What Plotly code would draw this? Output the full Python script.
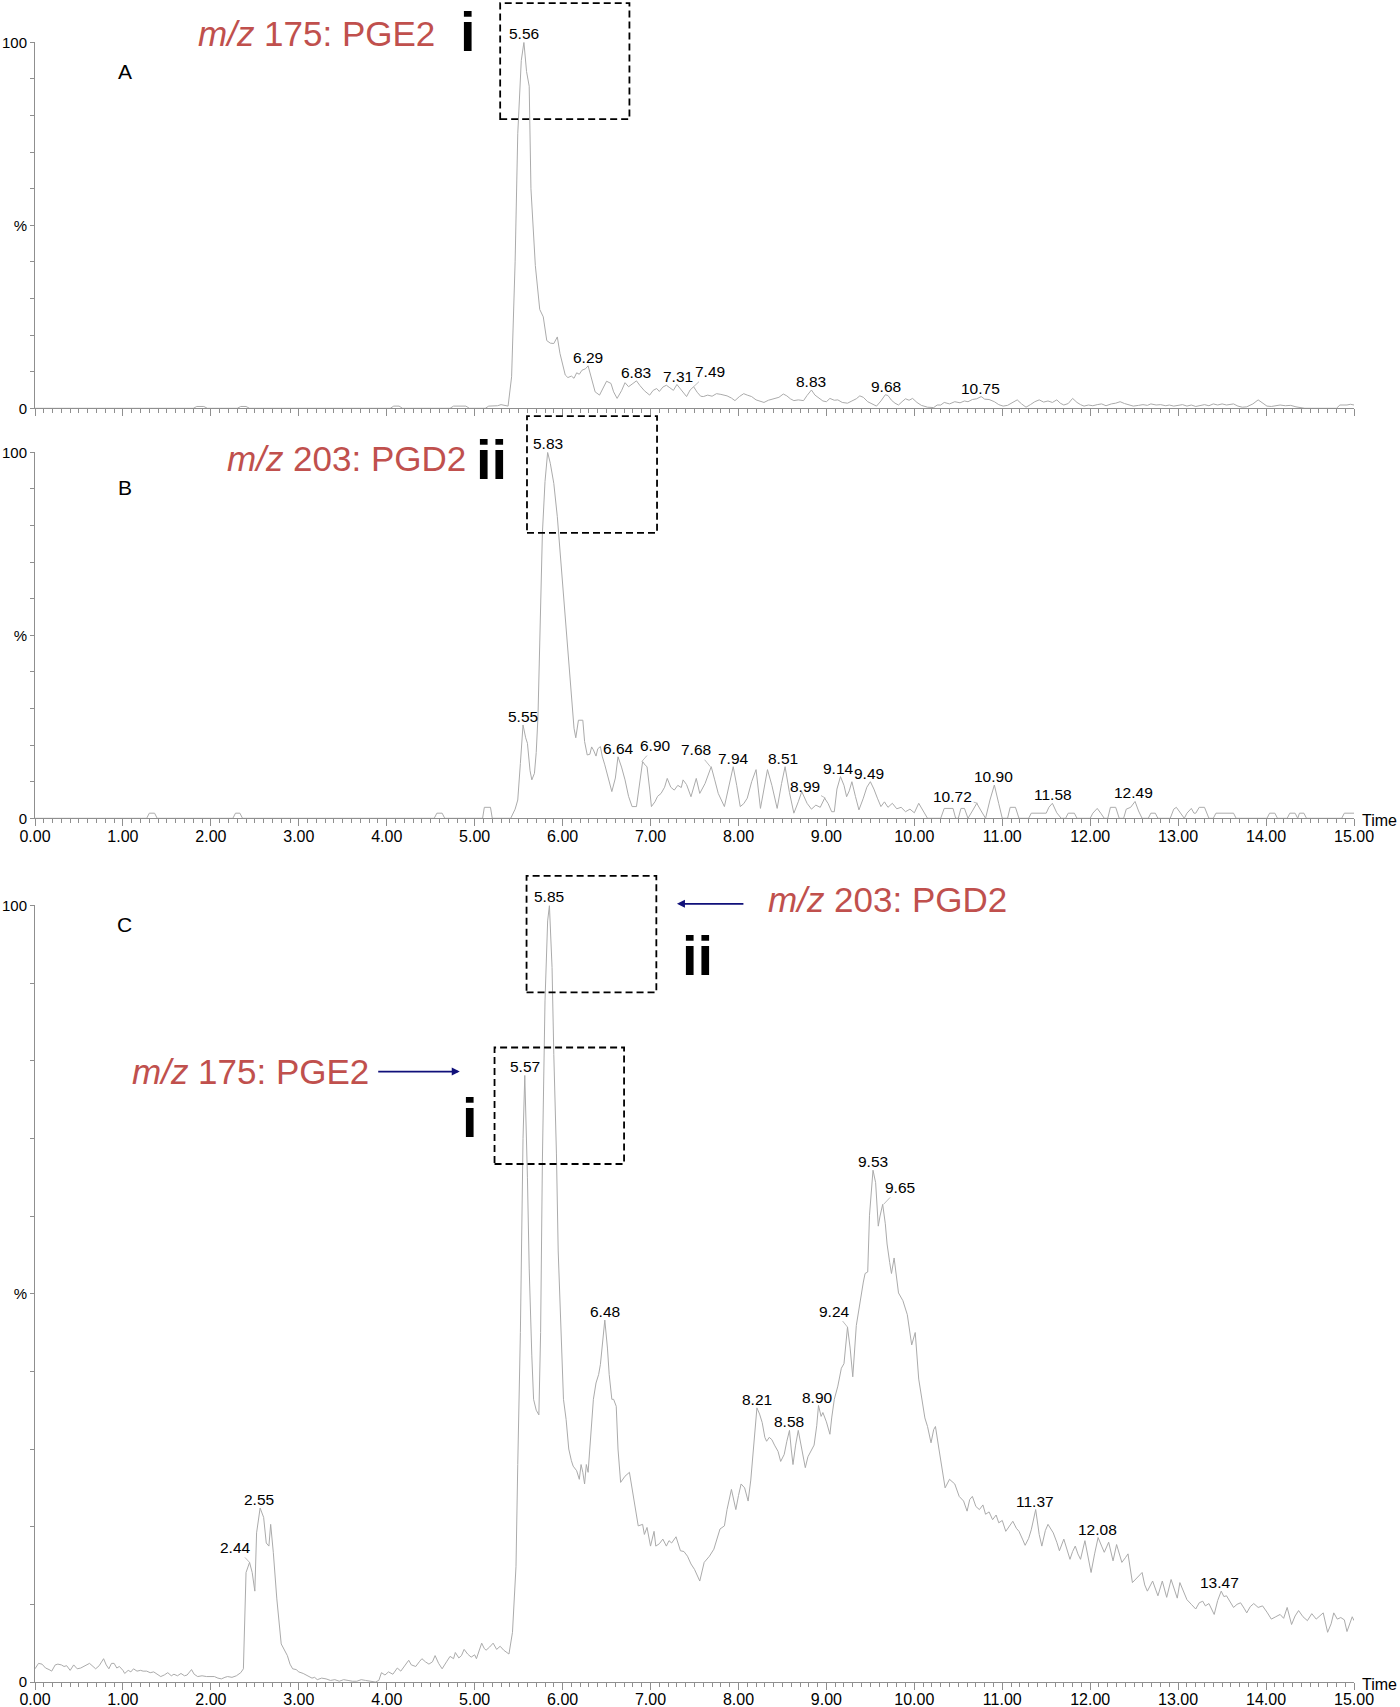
import plotly.graph_objects as go

# ----- Chromatogram A: m/z 175 (PGE2), retention time (min) vs relative intensity (%)
time_a = [
    0.00, 1.80, 1.84, 1.92, 1.96, 2.30, 2.34, 2.40, 2.44, 4.04,
    4.08, 4.14, 4.18, 4.72, 4.76, 4.90, 4.94, 5.12, 5.16, 5.26,
    5.30, 5.36, 5.38, 5.42, 5.46, 5.49, 5.53, 5.56, 5.59, 5.62,
    5.64, 5.69, 5.74, 5.78, 5.82, 5.86, 5.90, 5.94, 5.97, 6.03,
    6.06, 6.10, 6.13, 6.16, 6.19, 6.22, 6.26, 6.29, 6.33, 6.37,
    6.42, 6.46, 6.50, 6.55, 6.58, 6.62, 6.67, 6.71, 6.75, 6.79,
    6.84, 6.88, 6.93, 6.99, 7.03, 7.07, 7.10, 7.14, 7.18, 7.22,
    7.26, 7.30, 7.34, 7.38, 7.41, 7.45, 7.49, 7.53, 7.57, 7.60,
    7.65, 7.70, 7.75, 7.80, 7.87, 7.92, 7.96, 8.01, 8.06, 8.10,
    8.15, 8.20, 8.25, 8.29, 8.34, 8.40, 8.46, 8.51, 8.55, 8.59,
    8.63, 8.68, 8.74, 8.78, 8.83, 8.87, 8.92, 8.96, 9.00, 9.04,
    9.09, 9.13, 9.18, 9.24, 9.29, 9.34, 9.38, 9.42, 9.47, 9.52,
    9.57, 9.62, 9.67, 9.70, 9.74, 9.78, 9.82, 9.86, 9.90, 9.94,
    9.98, 10.03, 10.08, 10.15, 10.22, 10.26, 10.30, 10.34, 10.40, 10.46,
    10.52, 10.57, 10.61, 10.66, 10.71, 10.76, 10.80, 10.85, 10.91, 10.96,
    11.01, 11.06, 11.12, 11.17, 11.22, 11.27, 11.32, 11.37, 11.42, 11.47,
    11.52, 11.57, 11.62, 11.66, 11.70, 11.75, 11.80, 11.85, 11.89, 11.93,
    11.98, 12.03, 12.08, 12.13, 12.18, 12.24, 12.29, 12.34, 12.39, 12.44,
    12.49, 12.55, 12.60, 12.65, 12.69, 12.75, 12.80, 12.86, 12.90, 12.95,
    13.00, 13.05, 13.10, 13.15, 13.20, 13.25, 13.30, 13.35, 13.40, 13.45,
    13.50, 13.55, 13.60, 13.63, 13.68, 13.73, 13.78, 13.85, 13.91, 13.96,
    14.01, 14.06, 14.11, 14.16, 14.22, 14.28, 14.34, 14.39, 14.44, 14.80,
    14.84, 14.92, 14.96, 15.00,
]
int_a = [
    0, 0, 0.5, 0.5, 0, 0, 0.5, 0.5, 0, 0,
    0.6, 0.6, 0, 0, 0.6, 0.6, 0, 0, 0.6, 0.7,
    1.0, 0.8, 0.6, 8.6, 40, 75, 95, 100, 92, 88,
    60, 39, 27, 25, 18.5, 17.8, 17.7, 19.5, 15, 9.1,
    8.4, 8.8, 8.2, 9.7, 9.3, 10.4, 10.8, 11.6, 8, 4.5,
    3.6, 5.5, 7.4, 6.8, 4.5, 2.7, 4.8, 7.0, 5.9, 6.6,
    7.5, 6.2, 4.8, 3.6, 4.9, 5.4, 4.6, 5.8, 6.3, 5.6,
    4.9, 6.5, 5.2, 4.0, 3.2, 5.0, 5.9, 4.4, 3.3, 3.2,
    3.6, 3.3, 4.0, 3.8, 3.4, 2.8, 2.1, 3.2, 4.0, 3.6,
    3.2, 2.3, 2.0, 1.6, 2.2, 2.5, 3.0, 3.9, 3.4, 2.6,
    2.1, 2.3, 2.1, 3.5, 5.0, 3.6, 2.6, 2.0, 1.8, 2.7,
    2.2, 2.3, 1.6, 1.4, 2.0, 2.6, 3.4, 3.0, 1.8, 1.2,
    0.6, 2.0, 3.7, 3.5, 2.2, 1.4, 0.9, 1.8, 2.6, 2.2,
    2.7, 1.6, 0.8, 0.3, 0.2, 0.9, 0.9, 1.6, 1.2, 1.8,
    1.5, 2.0, 1.8, 2.4, 2.6, 3.2, 2.5, 2.4, 1.8, 1.0,
    0.6, 0.8, 1.6, 2.3, 1.2, 0.3, 1.0, 1.8, 2.3, 1.7,
    2.0, 1.6, 2.3, 1.4, 0.9, 1.3, 2.7, 1.6, 1.0, 0.6,
    0.9, 0.7, 1.0, 1.2, 0.7, 1.2, 1.4, 1.8, 1.3, 1.0,
    0.6, 0.8, 1.0, 0.8, 1.2, 0.9, 1.0, 0.7, 0.9, 0.6,
    0.8, 1.0, 0.6, 0.9, 0.5, 0.8, 1.0, 0.7, 1.2, 0.9,
    1.2, 0.9, 1.2, 1.2, 0.6, 0.3, 0.4, 1.2, 2.3, 1.4,
    0.6, 0.5, 0.8, 0.9, 0.7, 0.8, 0.4, 0.3, 0, 0,
    0.9, 0.9, 1.1, 0.9,
]

# ----- Chromatogram B: m/z 203 (PGD2)
time_b = [
    0.00, 1.27, 1.30, 1.36, 1.39, 2.25, 2.28, 2.33, 2.36, 4.54,
    4.57, 4.63, 4.66, 5.09, 5.11, 5.18, 5.20, 5.41, 5.46, 5.49,
    5.52, 5.55, 5.58, 5.60, 5.63, 5.65, 5.68, 5.70, 5.72, 5.75,
    5.77, 5.80, 5.83, 5.86, 5.90, 5.94, 5.97, 6.00, 6.04, 6.07,
    6.10, 6.13, 6.15, 6.18, 6.23, 6.25, 6.28, 6.31, 6.33, 6.35,
    6.38, 6.40, 6.43, 6.45, 6.48, 6.52, 6.56, 6.60, 6.63, 6.67,
    6.71, 6.75, 6.79, 6.84, 6.88, 6.91, 6.94, 6.96, 6.99, 7.01,
    7.05, 7.08, 7.12, 7.16, 7.19, 7.23, 7.27, 7.31, 7.35, 7.37,
    7.41, 7.46, 7.52, 7.56, 7.62, 7.66, 7.69, 7.73, 7.77, 7.84,
    7.89, 7.94, 7.98, 8.02, 8.06, 8.10, 8.15, 8.20, 8.25, 8.29,
    8.33, 8.38, 8.44, 8.49, 8.53, 8.58, 8.63, 8.68, 8.72, 8.78,
    8.83, 8.88, 8.93, 8.98, 9.02, 9.06, 9.09, 9.12, 9.16, 9.20,
    9.23, 9.26, 9.29, 9.33, 9.37, 9.42, 9.46, 9.50, 9.54, 9.58,
    9.62, 9.66, 9.70, 9.75, 9.80, 9.85, 9.90, 9.95, 10.00, 10.05,
    10.10, 10.15, 10.30, 10.34, 10.44, 10.47, 10.50, 10.53, 10.57, 10.61,
    10.66, 10.71, 10.76, 10.81, 10.86, 10.91, 10.96, 11.00, 11.06, 11.09,
    11.15, 11.19, 11.30, 11.33, 11.50, 11.53, 11.57, 11.62, 11.67, 11.72,
    11.75, 11.82, 11.85, 12.00, 12.03, 12.08, 12.12, 12.16, 12.20, 12.23,
    12.29, 12.33, 12.38, 12.41, 12.46, 12.51, 12.55, 12.59, 12.66, 12.69,
    12.74, 12.77, 12.91, 12.95, 12.98, 13.03, 13.07, 13.10, 13.15, 13.18,
    13.20, 13.24, 13.30, 13.35, 13.40, 13.43, 13.63, 13.66, 14.01, 14.04,
    14.10, 14.13, 14.24, 14.27, 14.33, 14.36, 14.38, 14.43, 14.46, 14.86,
    14.89, 15.00,
]
int_b = [
    0, 0, 1.4, 1.4, 0, 0, 1.4, 1.4, 0, 0,
    1.4, 1.4, 0, 0, 3.0, 3.0, 0, 0, 2.5, 5,
    15, 25.5, 22, 20.5, 13, 10.5, 12.3, 18, 27.8, 55,
    77.8, 92, 100, 97, 91.5, 82.4, 73, 64.2, 52, 41.4,
    32, 24.6, 22, 26.8, 26.8, 21, 17.3, 17.5, 19.5, 18.7,
    17, 19, 19.6, 17, 14.6, 11, 7.3, 11, 16.8, 14,
    10.5, 6, 3.2, 3.2, 10, 15.5, 14.5, 14.1, 8, 3.2,
    4.5, 6, 6.8, 8.5, 10.9, 8.5, 7.7, 9.0, 8.4, 10.5,
    9.2, 5.9, 10.9, 6.8, 9.5, 12.5, 14.1, 10.5, 6.8, 3.2,
    9.0, 14.1, 9.0, 3.2, 4.0, 5.5, 10.0, 13.3, 2.7, 8.5,
    13.3, 9.0, 2.7, 9.5, 14.1, 7.0, 1.4, 4.5, 7.3, 4.1,
    2.5, 3.6, 3.0, 5.5, 4.0, 1.8, 1.8, 8.0, 11.4, 9.0,
    5.9, 7.5, 10.0, 6.0, 2.3, 5.5, 8.5, 10.0, 8.0, 5.5,
    3.2, 4.5, 3.0, 4.1, 2.6, 3.0, 1.8, 2.5, 1.5, 4.1,
    2.0, 0, 0, 2.7, 2.7, 0, 0, 2.7, 2.7, 0,
    2.0, 4.1, 2.0, 0, 5.0, 9.1, 4.0, 0, 0, 3.0,
    3.0, 0, 0, 1.4, 1.4, 3.0, 4.1, 1.5, 0, 0,
    1.4, 1.4, 0, 0, 1.4, 2.7, 1.4, 0, 0, 3.0,
    3.0, 0, 0, 2.5, 3.0, 4.6, 2.0, 0, 0, 1.4,
    1.4, 0, 0, 2.5, 3.0, 1.5, 0, 1.4, 2.7, 1.4,
    1.4, 3.0, 3.0, 0, 0, 1.4, 1.4, 0, 0, 1.4,
    1.4, 0, 0, 1.4, 1.4, 0, 1.4, 1.4, 0, 0,
    1.4, 1.4,
]

# ----- Chromatogram C: combined trace
time_c = [
    0.00, 0.04, 0.08, 0.12, 0.16, 0.19, 0.23, 0.26, 0.30, 0.33,
    0.36, 0.40, 0.44, 0.48, 0.52, 0.56, 0.62, 0.66, 0.69, 0.73,
    0.78, 0.81, 0.84, 0.87, 0.90, 0.93, 0.96, 1.00, 1.02, 1.06,
    1.09, 1.12, 1.16, 1.20, 1.23, 1.27, 1.31, 1.35, 1.39, 1.43,
    1.47, 1.51, 1.55, 1.58, 1.62, 1.66, 1.70, 1.73, 1.78, 1.81,
    1.85, 1.90, 1.95, 2.00, 2.04, 2.08, 2.12, 2.16, 2.19, 2.24,
    2.29, 2.34, 2.37, 2.40, 2.44, 2.47, 2.50, 2.52, 2.56, 2.60,
    2.63, 2.66, 2.68, 2.71, 2.75, 2.80, 2.84, 2.87, 2.90, 2.93,
    2.97, 3.00, 3.05, 3.10, 3.15, 3.18, 3.21, 3.26, 3.31, 3.36,
    3.41, 3.46, 3.51, 3.56, 3.61, 3.66, 3.71, 3.76, 3.82, 3.87,
    3.91, 3.94, 3.98, 4.02, 4.07, 4.12, 4.16, 4.20, 4.25, 4.28,
    4.33, 4.37, 4.40, 4.44, 4.48, 4.52, 4.55, 4.59, 4.63, 4.68,
    4.72, 4.76, 4.78, 4.82, 4.85, 4.88, 4.92, 4.96, 5.00, 5.02,
    5.05, 5.08, 5.11, 5.13, 5.17, 5.21, 5.25, 5.29, 5.33, 5.36,
    5.39, 5.43, 5.47, 5.49, 5.52, 5.55, 5.57, 5.60, 5.62, 5.65,
    5.67, 5.70, 5.73, 5.75, 5.77, 5.80, 5.83, 5.85, 5.88, 5.90,
    5.93, 5.95, 5.98, 6.01, 6.04, 6.07, 6.10, 6.12, 6.16, 6.19,
    6.21, 6.23, 6.25, 6.27, 6.29, 6.31, 6.35, 6.38, 6.41, 6.43,
    6.46, 6.48, 6.51, 6.53, 6.56, 6.58, 6.61, 6.63, 6.66, 6.71,
    6.76, 6.78, 6.81, 6.86, 6.91, 6.93, 6.96, 6.98, 7.00, 7.04,
    7.06, 7.10, 7.14, 7.18, 7.21, 7.24, 7.29, 7.34, 7.38, 7.42,
    7.46, 7.50, 7.53, 7.56, 7.61, 7.67, 7.72, 7.76, 7.79, 7.84,
    7.87, 7.92, 7.95, 7.97, 8.00, 8.03, 8.07, 8.11, 8.14, 8.16,
    8.19, 8.21, 8.24, 8.27, 8.30, 8.32, 8.35, 8.38, 8.41, 8.45,
    8.48, 8.52, 8.55, 8.58, 8.60, 8.62, 8.65, 8.68, 8.72, 8.76,
    8.79, 8.82, 8.86, 8.89, 8.91, 8.94, 8.96, 9.00, 9.04, 9.06,
    9.09, 9.13, 9.17, 9.20, 9.24, 9.27, 9.30, 9.34, 9.39, 9.42,
    9.44, 9.47, 9.49, 9.52, 9.53, 9.56, 9.59, 9.61, 9.64, 9.67,
    9.69, 9.72, 9.74, 9.77, 9.80, 9.82, 9.87, 9.92, 9.97, 10.01,
    10.05, 10.09, 10.12, 10.15, 10.19, 10.22, 10.24, 10.28, 10.31, 10.35,
    10.40, 10.46, 10.51, 10.56, 10.60, 10.63, 10.66, 10.70, 10.74, 10.78,
    10.81, 10.85, 10.89, 10.93, 10.96, 11.00, 11.04, 11.08, 11.12, 11.16,
    11.19, 11.23, 11.26, 11.30, 11.33, 11.38, 11.42, 11.45, 11.49, 11.52,
    11.55, 11.58, 11.62, 11.65, 11.70, 11.74, 11.77, 11.80, 11.83, 11.86,
    11.89, 11.94, 11.98, 12.01, 12.05, 12.09, 12.13, 12.16, 12.21, 12.26,
    12.30, 12.33, 12.36, 12.40, 12.43, 12.48, 12.52, 12.55, 12.59, 12.62,
    12.65, 12.71, 12.77, 12.82, 12.87, 12.92, 12.99, 13.02, 13.06, 13.10,
    13.15, 13.20, 13.24, 13.28, 13.31, 13.35, 13.41, 13.45, 13.49, 13.52,
    13.55, 13.59, 13.63, 13.67, 13.71, 13.75, 13.78, 13.82, 13.86, 13.91,
    13.96, 14.01, 14.06, 14.11, 14.16, 14.20, 14.24, 14.29, 14.33, 14.37,
    14.42, 14.47, 14.52, 14.57, 14.61, 14.65, 14.70, 14.74, 14.77, 14.81,
    14.85, 14.89, 14.92, 14.95, 14.98, 15.00,
]
int_c = [
    1.7, 2.4, 2.3, 1.8, 1.6, 1.4, 2.2, 2.3, 2.2, 2.0,
    2.1, 1.5, 2.2, 1.7, 1.8, 2.0, 2.4, 2.0, 1.7, 2.1,
    3.0, 2.2, 1.7, 2.4, 2.4, 1.8, 2.0, 1.5, 1.1, 1.5,
    1.3, 1.7, 1.4, 1.5, 1.4, 1.4, 1.2, 1.3, 1.0, 0.7,
    0.9, 1.2, 0.8, 1.0, 0.8, 1.1, 0.8, 0.9, 1.6, 1.0,
    0.7, 0.8, 0.7, 0.7, 0.7, 0.5, 0.4, 0.6, 0.7, 0.6,
    0.8, 1.2, 1.7, 14.1, 15.4, 14.1, 11.7, 19.2, 22.4, 21.2,
    17.9, 17.5, 20.3, 16.7, 10.7, 4.9, 4.0, 3.4, 2.3, 1.7,
    1.6, 1.3, 1.1, 0.8, 0.5, 0.6, 0.3, 0.5, 0.4, 0.2,
    0.3, 0.1, 0.3, 0.2, 0.1, 0.1, 0.3, 0.2, 0.1, 0,
    0.2, 1.2, 0.9, 1.3, 1.0, 1.8, 1.4, 2.1, 2.8, 2.2,
    2.0, 2.6, 3.0, 2.6, 2.3, 2.6, 3.4, 2.4, 1.7, 2.6,
    3.3, 3.0, 3.8, 3.1, 3.4, 4.2, 3.6, 3.2, 3.5, 3.0,
    4.0, 5.0, 4.3, 4.1, 4.5, 5.0, 4.2, 4.6, 4.1, 3.9,
    3.6, 6.4, 14.9, 28, 45, 70, 78.1, 65, 53.3, 42,
    36.4, 35, 34.4, 45, 67, 87.7, 98, 100, 92, 80.8,
    68, 55.5, 45, 36.4, 33.8, 30, 28.5, 27.8, 27.2, 26.1,
    28, 27, 25.5, 28, 27, 30, 36.4, 38.5, 39.6, 40.9,
    44, 46.6, 43, 39.6, 36.4, 36.4, 35.5, 30, 25.7, 26.5,
    27, 25.7, 23.5, 20.1, 20.3, 19.0, 19.9, 18.5, 17.5, 19.4,
    17.5, 17.8, 18.4, 17.5, 18.2, 17.9, 18.7, 16.9, 16.8, 16.2,
    15.2, 14.5, 13.8, 13.0, 15.4, 16.2, 17.1, 18.5, 19.7, 20.1,
    22.2, 24.8, 23.0, 22.2, 24, 25.5, 25.0, 23.3, 26, 28.7,
    33, 35.3, 34.5, 33.4, 31.5, 31, 31.5, 31.2, 30.5, 29.7,
    28.4, 29.3, 31, 32.4, 30, 28, 30.5, 32.4, 30, 27.6,
    29, 29.7, 30.5, 33, 35.6, 34.2, 34.7, 33.5, 31.9, 34,
    36.4, 38.1, 40.4, 41, 45.7, 43, 39.3, 45.9, 49.6, 51.5,
    52.6, 52.8, 60.1, 65.6, 65.9, 64.3, 58.7, 60, 61.5, 59,
    56.4, 54, 52.6, 54.6, 51.5, 50.1, 49.1, 47.3, 43.4, 45.0,
    39.0, 36.4, 34, 32.9, 30.8, 32.5, 32.9, 30, 27.8, 25,
    26.1, 25.5, 23.9, 23.3, 22.0, 23.5, 23.9, 22.6, 22.2, 22.8,
    21.6, 21.9, 20.9, 21.5, 20.5, 20.8, 19.4, 20.0, 20.7, 19.8,
    19.4, 18.4, 17.6, 18.5, 19.6, 22.2, 19.0, 17.5, 19.5, 20.3,
    19.8, 19.2, 18.0, 16.9, 18.4, 16.9, 15.8, 16.8, 17.5, 16.5,
    15.8, 18.2, 16.0, 14.1, 16.5, 18.6, 17.5, 16.7, 18.0, 15.6,
    17.7, 16.4, 15.4, 16.0, 16.5, 12.8, 13.3, 13.6, 14.1, 12.5,
    11.7, 13.0, 11.1, 13.0, 10.9, 13.2, 10.8, 12.8, 11.6, 10.6,
    10.0, 9.4, 10.2, 10.4, 9.8, 10.1, 8.7, 10.5, 11.7, 11.0,
    11.1, 10.3, 9.6, 10.0, 10.2, 9.5, 8.9, 9.7, 10.1, 9.6,
    9.8, 9.0, 8.1, 8.4, 8.7, 8.2, 9.6, 7.4, 8.5, 9.2,
    8.4, 7.9, 8.8, 8.1, 8.5, 8.9, 6.4, 7.5, 8.9, 8.1,
    8.3, 8.0, 6.5, 7.5, 8.4, 7.9,
]

# ----- Peak labels (retention time text, intensity at the apex)
peaks_a = ["5.56", "6.29", "6.83", "7.31", "7.49", "8.83", "9.68", "10.75"]
heights_a = [100, 11.6, 7.5, 6.5, 5.9, 5.0, 3.7, 3.2]
peaks_b = ["5.55", "5.83", "6.64", "6.90", "7.68", "7.94", "8.51", "8.99",
           "9.14", "9.49", "10.72", "10.90", "11.58", "12.49"]
heights_b = [25.5, 100, 16.8, 15.5, 14.1, 14.1, 14.1, 5.5, 11.4, 10.0, 4.1, 9.1, 4.1, 4.6]
peaks_c = ["2.44", "2.55", "5.57", "5.85", "6.48", "8.21", "8.58", "8.90",
           "9.24", "9.53", "9.65", "11.37", "12.08", "13.47"]
heights_c = [15.4, 22.4, 78.1, 100, 46.6, 35.3, 32.4, 35.6, 45.7, 65.9, 61.5, 22.2, 18.6, 11.7]

x_tick_labels = ["0.00", "1.00", "2.00", "3.00", "4.00", "5.00", "6.00", "7.00",
                 "8.00", "9.00", "10.00", "11.00", "12.00", "13.00", "14.00", "15.00"]
y_tick_labels = ["0", "%", "100"]

# ----- Styling (pixel positions are in window coordinates; body margin is removed below)
W, H = 1400, 1707
X_LEFT, X_RIGHT = 35, 1354
PANEL_PX = {"A": (42.3, 408.3), "B": (452.3, 818.3), "C": (905.4, 1682.0)}
AXIS_GREY = "#8f8f8f"
TRACE_GREY = "#ababab"
RED = "#c0504d"
NAVY = "#10107a"
FONT = "Liberation Sans, Arial, sans-serif"

# label offsets (px) for labels drawn with a short leader line
leaders = {
    "A": {"7.49": (16, -15)},
    "B": {"6.90": (14, -16), "7.68": (-14, -17), "8.99": (-21, -12), "10.72": (-25, -7)},
    "C": {"9.65": (16, -17), "9.24": (-13, -16), "2.44": (-14, -15)},
}


def y_domain(panel):
    top, bottom = PANEL_PX[panel]
    return [1 - bottom / H, 1 - top / H]


major_x = [i / 2 for i in range(31)]
major_text = []
for i in range(31):
    major_text.append(x_tick_labels[i // 2] if i % 2 == 0 else "")


def x_axis(anchor, show_labels):
    return dict(
        domain=[X_LEFT / W, X_RIGHT / W], range=[0, 15], anchor=anchor, automargin=False,
        showgrid=False, zeroline=False, showline=True, linecolor=AXIS_GREY, linewidth=1,
        ticks="outside", ticklen=7, tickwidth=1, tickcolor=AXIS_GREY,
        tickmode="array", tickvals=major_x, ticktext=major_text, ticklabelstandoff=-4,
        showticklabels=show_labels, tickfont=dict(size=16, color="black"),
        minor=dict(tickmode="array", tickvals=[i / 10 for i in range(151)],
                   ticks="outside", ticklen=4, tickwidth=1, tickcolor=AXIS_GREY),
    )


def y_axis(panel, anchor):
    return dict(
        domain=y_domain(panel), range=[0, 100], anchor=anchor, automargin=False,
        showgrid=False, zeroline=False, showline=True, linecolor=AXIS_GREY, linewidth=1,
        ticks="outside", ticklen=4, tickwidth=1, tickcolor=AXIS_GREY,
        tickmode="array", tickvals=[0, 50, 100], ticktext=y_tick_labels,
        tickfont=dict(size=15, color="black"),
        minor=dict(tickmode="array", tickvals=[10, 20, 30, 40, 60, 70, 80, 90],
                   ticks="outside", ticklen=4, tickwidth=1, tickcolor=AXIS_GREY),
    )


fig = go.Figure()
for t, v, xa, ya in [(time_a, int_a, "x", "y"), (time_b, int_b, "x2", "y2"), (time_c, int_c, "x3", "y3")]:
    fig.add_trace(go.Scatter(x=t, y=v, xaxis=xa, yaxis=ya, mode="lines",
                             line=dict(color=TRACE_GREY, width=1), showlegend=False,
                             hoverinfo="skip"))

annotations = []


def add_peak_labels(panel, labels, heights, xref, yref):
    for lbl, h in zip(labels, heights):
        a = dict(x=float(lbl), y=h, xref=xref, yref=yref, text=lbl,
                 font=dict(size=15.5, color="black"))
        if lbl in leaders[panel]:
            ax, ay = leaders[panel][lbl]
            a.update(showarrow=True, arrowhead=0, arrowwidth=0.8, arrowcolor=TRACE_GREY,
                     ax=ax, ay=ay, standoff=0)
        else:
            a.update(showarrow=False, yanchor="bottom", yshift=-2)
        annotations.append(a)


add_peak_labels("A", peaks_a, heights_a, "x", "y")
add_peak_labels("B", peaks_b, heights_b, "x2", "y2")
add_peak_labels("C", peaks_c, heights_c, "x3", "y3")


def note(xr, yr, x, pct, text, font, **kw):
    # y given in % of the panel height (the panel spans 0-100 %)
    d = dict(x=x, y=pct / 100, xref=xr, yref=yr + " domain", text=text, showarrow=False,
             font=font, xanchor="center", yanchor="middle")
    d.update(kw)
    annotations.append(d)


# panel letters
for letter, xr, yr, yv in [("A", "x", "y", 91.9), ("B", "x2", "y2", 90.5), ("C", "x3", "y3", 97.5)]:
    note(xr, yr, 1.02, yv, letter, dict(size=21, color="black"))

# "Time" axis titles at the right end of the labelled axes
for yr in ["y2", "y3"]:
    annotations.append(dict(x=(X_RIGHT + 6) / W, y=0, xref="paper", yref=yr + " domain", text="Time",
                            xanchor="left", yanchor="middle", yshift=-2, showarrow=False,
                            font=dict(size=16, color="black")))

# compound callouts
red_font = dict(size=35, color=RED)
note("x", "y", 3.196, 102.3, "<i>m/z</i> 175: PGE2", red_font)
note("x2", "y2", 3.537, 98.4, "<i>m/z</i> 203: PGD2", red_font)
note("x3", "y3", 9.695, 100.8, "<i>m/z</i> 203: PGD2", red_font)
note("x3", "y3", 2.453, 78.6, "<i>m/z</i> 175: PGE2", red_font)

big = dict(size=56, color="black")
note("x", "y", 4.924, 102.9, "<b>i</b>", big)
note("x2", "y2", 5.197, 97.9, "<b>ii</b>", big)
note("x3", "y3", 7.534, 93.6, "<b>ii</b>", big)
note("x3", "y3", 4.947, 72.7, "<b>i</b>", big)

# navy arrows in panel C
arrow = dict(arrowhead=2, arrowsize=1, arrowwidth=1.6, arrowcolor=NAVY, standoff=0)
note("x3", "y3", 4.83, 78.6, "", {}, showarrow=True, ax=-83, ay=0, **arrow)
note("x3", "y3", 7.30, 100.2, "", {}, showarrow=True, ax=68, ay=0, **arrow)

# dashed highlight boxes (x in minutes, y in % of the panel)
boxes = [
    ("x", "y domain", 5.29, 6.76, 79.0, 110.7),
    ("x2", "y2 domain", 5.595, 7.074, 78.0, 109.9),
    ("x3", "y3 domain", 5.59, 7.066, 88.8, 103.8),
    ("x3", "y3 domain", 5.226, 6.699, 66.7, 81.7),
]
shapes = []
for xr, yr, x0, x1, y0, y1 in boxes:
    shapes.append(dict(type="rect", xref=xr, yref=yr, x0=x0, x1=x1, y0=y0 / 100, y1=y1 / 100,
                       line=dict(color="black", width=1.8, dash="7px,4px"),
                       fillcolor="rgba(0,0,0,0)", layer="above"))

fig.update_layout(
    width=W, height=H, autosize=False,
    margin=dict(l=0, r=0, t=0, b=0, pad=0),
    paper_bgcolor="white", plot_bgcolor="white",
    font=dict(family=FONT, color="black"),
    xaxis=x_axis("y", False), yaxis=y_axis("A", "x"),
    xaxis2=x_axis("y2", True), yaxis2=y_axis("B", "x2"),
    xaxis3=x_axis("y3", True), yaxis3=y_axis("C", "x3"),
    annotations=annotations, shapes=shapes,
)

# the default page body has an 8 px margin; drop it so the figure fills the window
fig.write_html("out.html", config={"displayModeBar": False},
               post_script="document.body.style.margin = '0px';")
